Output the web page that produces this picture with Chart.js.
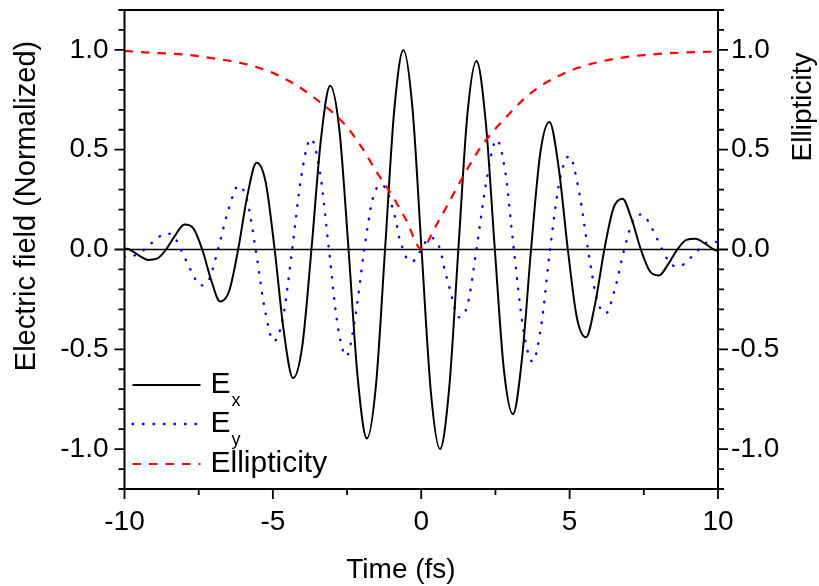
<!DOCTYPE html>
<html><head><meta charset="utf-8">
<script src="https://cdn.jsdelivr.net/npm/chart.js@4"></script>
<style>html,body{margin:0;padding:0;background:#fff}#wrap{width:819px;height:586px}</style>
</head><body><div id="wrap"><canvas id="c" width="819" height="586"></canvas></div>
<script>
// ---- data ----
const exTime = [-10,-9.83,-9.52,-9.21,-8.905,-8.6,-8.29,-7.98,-7.68,-7.38,-7.08,-6.78,-6.475,-6.17,-5.86,-5.55,-5.245,-4.94,-4.63,-4.32,-4.01,-3.70,-3.385,-3.07,-2.76,-2.45,-2.14,-1.83,-1.525,-1.22,-0.91,-0.60,-0.295,0.01,0.32,0.63,0.94,1.25,1.555,1.86,2.17,2.48,2.785,3.09,3.395,3.70,4.01,4.32,4.63,4.94,5.245,5.55,5.86,6.17,6.475,6.78,7.09,7.40,7.705,8.01,8.32,8.63,8.935,9.24,9.55,9.86,10];
const exField = [0.005,0,-0.029,-0.052,-0.046,0,0.071,0.125,0.106,0,-0.153,-0.26,-0.209,0,0.270,0.435,0.339,0,-0.413,-0.644,-0.484,0,0.546,0.82,0.601,0,-0.646,-0.947,-0.679,0,0.698,1.0,0.707,0,-0.707,-1.0,-0.697,0,0.677,0.944,0.645,0,-0.603,-0.825,-0.547,0,0.482,0.639,0.412,0,-0.342,-0.44,-0.271,0,0.206,0.254,0.152,0,-0.109,-0.13,-0.074,0,0.048,0.054,0.031,0,-0.008];

const eyTime = [-10,-9.85,-9.6,-9.33,-8.965,-8.6,-8.35,-8.1,-7.765,-7.43,-7.14,-6.85,-6.505,-6.16,-5.87,-5.58,-5.275,-4.97,-4.66,-4.35,-4.035,-3.72,-3.415,-3.11,-2.815,-2.52,-2.22,-1.92,-1.625,-1.33,-1.15,-0.99,-0.8,-0.74,-0.62,-0.49,-0.33,-0.2,0.0,0.18,0.33,0.45,0.6,0.7,0.77,0.85,1.0,1.12,1.28,1.57,1.86,2.2,2.54,2.83,3.12,3.435,3.75,4.045,4.34,4.665,4.99,5.305,5.62,5.92,6.22,6.53,6.84,7.14,7.44,7.78,8.12,8.4,8.68,9.015,9.35,9.6,9.85,10];
const eyField = [-0.035,-0.04,-0.025,0,0.048,0.08,0.069,0,-0.104,-0.18,-0.147,0,0.196,0.32,0.248,0,-0.297,-0.46,-0.341,0,0.374,0.555,0.389,0,-0.382,-0.535,-0.334,0,0.26,0.325,0.29,0.22,0.107,0.057,0.005,-0.044,-0.06,-0.05,0,0.045,0.06,0.05,0.015,-0.038,-0.088,-0.136,-0.22,-0.29,-0.34,-0.271,0,0.345,0.55,0.391,0,-0.395,-0.562,-0.379,0,0.346,0.468,0.301,0,-0.249,-0.32,-0.195,0,0.144,0.176,0.104,0,-0.072,-0.085,-0.05,0,0.034,0.04,0.035];

const ellTime = [-10,-9,-8,-7,-6,-5,-4.5,-4,-3.5,-3,-2.5,-2,-1.5,-1,-0.5,0,0.5,1,1.5,2,2.5,3,3.5,4,4.5,5,6,7,8,9,10];
const ellValue = [0.995,0.985,0.977,0.958,0.932,0.885,0.848,0.803,0.748,0.688,0.614,0.51,0.388,0.275,0.145,0.003,0.12,0.255,0.39,0.512,0.605,0.685,0.76,0.817,0.86,0.895,0.94,0.966,0.98,0.988,0.992];

const seriesNames = ['E', 'E', 'Ellipticity'];
const seriesSubs = ['x', 'y', ''];
const xTickValues = [-10, -5, 0, 5, 10];
const yTickValues = [-1.0, -0.5, 0.0, 0.5, 1.0];
const axisTitles = {x: 'Time (fs)', y: 'Electric field (Normalized)', y2: 'Ellipticity'};

// ---- chart ----
const FONT = "'Liberation Sans', Arial, Helvetica, sans-serif";
const pts = (t, v) => t.map((x, i) => ({x, y: v[i]}));

function rotText(ctx, text, x, y, size) {
  ctx.save();
  ctx.translate(x, y); ctx.rotate(-Math.PI / 2);
  ctx.font = size + 'px ' + FONT; ctx.fillStyle = '#000';
  ctx.textAlign = 'center'; ctx.textBaseline = 'alphabetic';
  ctx.fillText(text, 0, 0);
  ctx.restore();
}

const decor = {
  id: 'decor',
  beforeDatasetsDraw(chart) {
    const {ctx, chartArea: a, scales} = chart;
    const y0 = scales.y.getPixelForValue(0);
    ctx.save();
    ctx.strokeStyle = '#000'; ctx.lineWidth = 1.6;
    ctx.beginPath(); ctx.moveTo(a.left, y0); ctx.lineTo(a.right, y0); ctx.stroke();
    ctx.restore();
  },
  afterDatasetsDraw(chart) {
    const {ctx, chartArea: a, scales} = chart;
    ctx.save();
    ctx.strokeStyle = '#000'; ctx.lineWidth = 2; ctx.setLineDash([]);
    ctx.lineCap = 'butt';
    ctx.strokeRect(a.left, a.top, a.right - a.left, a.bottom - a.top);
    ctx.lineWidth = 1.8;
    ctx.beginPath();
    for (let k = -12; k <= 12; k++) {
      const v = k / 10;
      const major = Math.abs(k % 5) === 0 && Math.abs(k) <= 10;
      const len = major ? 10 : 6;
      const py = scales.y.getPixelForValue(v);
      ctx.moveTo(a.left, py); ctx.lineTo(a.left - len, py);
      const py2 = scales.y2.getPixelForValue(v);
      ctx.moveTo(a.right, py2); ctx.lineTo(a.right + len, py2);
    }
    for (let k = -4; k <= 4; k++) {
      const px = scales.x.getPixelForValue(k * 2.5);
      ctx.moveTo(px, a.bottom); ctx.lineTo(px, a.bottom + (k % 2 === 0 ? 10 : 6));
    }
    ctx.stroke();
    // axis titles
    rotText(ctx, axisTitles.y, 35, 206, 29);
    rotText(ctx, axisTitles.y2, 811, 107, 28);
    ctx.font = '28px ' + FONT; ctx.fillStyle = '#000';
    ctx.textAlign = 'center'; ctx.textBaseline = 'alphabetic';
    ctx.fillText(axisTitles.x, 401, 578);
    // legend
    const rows = [a.bottom - 104, a.bottom - 65, a.bottom - 25];
    const x0 = a.left + 8, x1 = a.left + 76, tx = a.left + 86;
    chart.data.datasets.forEach((ds, i) => {
      const y = rows[i];
      ctx.save();
      ctx.strokeStyle = ds.borderColor; ctx.lineWidth = ds.borderWidth;
      ctx.setLineDash(ds.borderDash || []);
      ctx.lineCap = ds.borderCapStyle || 'butt';
      ctx.beginPath(); ctx.moveTo(x0, y); ctx.lineTo(x1, y); ctx.stroke();
      ctx.restore();
      ctx.fillStyle = '#000';
      ctx.textBaseline = 'middle'; ctx.textAlign = 'left';
      ctx.font = '30px ' + FONT;
      ctx.fillText(seriesNames[i], tx, y);
      if (seriesSubs[i]) {
        const w = ctx.measureText(seriesNames[i]).width;
        ctx.font = '18px ' + FONT;
        ctx.fillText(seriesSubs[i], tx + w + 1, y + 16);
      }
    });
    ctx.restore();
  }
};

const tickFont = {family: FONT, size: 28};
const yFmt = v => (Math.abs(v) < 1e-9 ? 0 : v).toFixed(1);
const noPad = s => { s.paddingTop = 0; s.paddingBottom = 0; };

new Chart(document.getElementById('c'), {
  type: 'line',
  data: {
    datasets: [
      {label: 'Ex', data: pts(exTime, exField), yAxisID: 'y', borderColor: '#000000', borderWidth: 2, fill: false, order: 1},
      {label: 'Ey', data: pts(eyTime, eyField), yAxisID: 'y', borderColor: '#0000ff', borderWidth: 2.4, borderDash: [0.5, 10], borderCapStyle: 'round', fill: false, order: 2},
      {label: 'Ellipticity', data: pts(ellTime, ellValue), yAxisID: 'y2', borderColor: '#ff0000', borderWidth: 2.2, borderDash: [8.5, 8], fill: false, order: 0}
    ]
  },
  options: {
    responsive: false, animation: false, devicePixelRatio: 1,
    layout: {padding: {top: 10, left: 0, right: 0, bottom: 0}},
    plugins: {legend: {display: false}, tooltip: {enabled: false}},
    elements: {point: {radius: 0}, line: {cubicInterpolationMode: 'monotone'}},
    scales: {
      x: {
        type: 'linear', min: -10, max: 10,
        afterBuildTicks: s => { s.ticks = xTickValues.map(v => ({value: v})); },
        ticks: {font: tickFont, color: '#000', padding: 16, maxRotation: 0, autoSkip: false, callback: v => String(v)},
        grid: {display: false, drawTicks: false}, border: {display: false},
        afterFit: s => { s.height = 97; s.paddingLeft = 0; s.paddingRight = 0; }
      },
      y: {
        position: 'left', min: -1.2, max: 1.2,
        afterBuildTicks: s => { s.ticks = yTickValues.map(v => ({value: v})); },
        ticks: {font: tickFont, color: '#000', padding: 16, autoSkip: false, callback: yFmt},
        grid: {display: false, drawTicks: false}, border: {display: false},
        afterFit: s => { s.width = 124.5; noPad(s); }
      },
      y2: {
        position: 'right', min: -1.2, max: 1.2,
        afterBuildTicks: s => { s.ticks = yTickValues.map(v => ({value: v})); },
        ticks: {font: tickFont, color: '#000', padding: 13, autoSkip: false, callback: yFmt},
        grid: {display: false, drawTicks: false}, border: {display: false},
        afterFit: s => { s.width = 101; noPad(s); }
      }
    }
  },
  plugins: [decor]
});
</script></body></html>
